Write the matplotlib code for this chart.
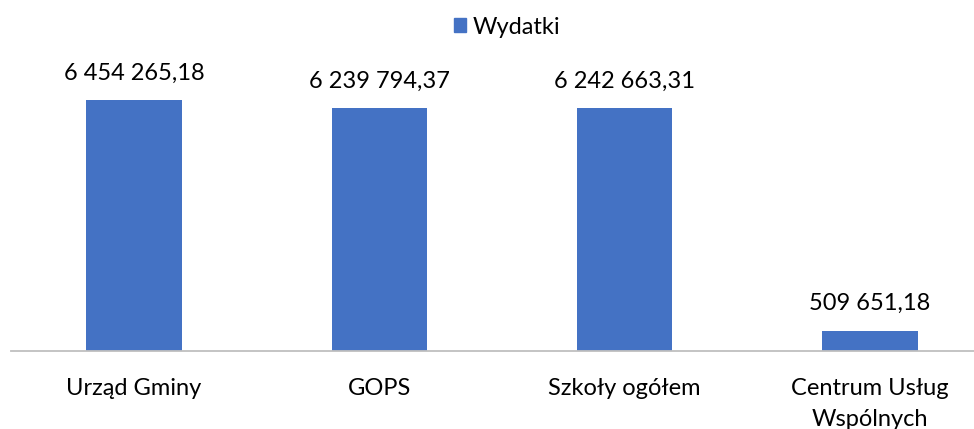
import matplotlib
matplotlib.use("Agg")
import matplotlib.pyplot as plt
from matplotlib.patches import Patch

categories = ["Urząd Gminy", "GOPS", "Szkoły ogółem", "Centrum Usług\nWspólnych"]
values = [6454265.18, 6239794.37, 6242663.31, 509651.18]
labels = ["6 454 265,18", "6 239 794,37", "6 242 663,31", "509 651,18"]
series_name = "Wydatki"

plt.rcParams['font.family'] = ['Lato', 'DejaVu Sans']
W, H = 974, 429
fig = plt.figure(figsize=(W / 100, H / 100), dpi=100)

# axes geometry in pixels
left_px, base_px = 11.4, 350.5
unit_px = 245.3
ymax = 7.0e6
px_per_val = (base_px - 100) / values[0]
height_px = ymax * px_per_val
ax = fig.add_axes([left_px / W, (H - base_px) / H, 4 * unit_px / W, height_px / H])

color = "#4472C4"
x = range(len(categories))
bars = ax.bar(x, values, width=0.39, color=color)
ax.set_xlim(-0.5, 3.5)
ax.set_ylim(0, ymax)

for xi, v, lab in zip(x, values, labels):
    ax.annotate(lab, (xi, v), xytext=(0, 19.5), textcoords="offset points",
                ha="center", va="center", fontsize=17, color="#000000")

for s in ["top", "right", "left"]:
    ax.spines[s].set_visible(False)
ax.spines["bottom"].set_color("#BFBFBF")
ax.spines["bottom"].set_linewidth(1.3)
ax.set_yticks([])
ax.set_xticks(list(x))
ax.set_xticklabels(categories, fontsize=17, color="#000000", linespacing=1.6)
ax.tick_params(axis="x", length=0, pad=20)

fig.legend(handles=[Patch(color=color, label=series_name)], loc="center",
           bbox_to_anchor=(507 / W, 1 - 27 / H), frameon=False, fontsize=17,
           handlelength=0.5, handleheight=0.55, handletextpad=0.3)

fig.savefig("out.png", dpi=100)
